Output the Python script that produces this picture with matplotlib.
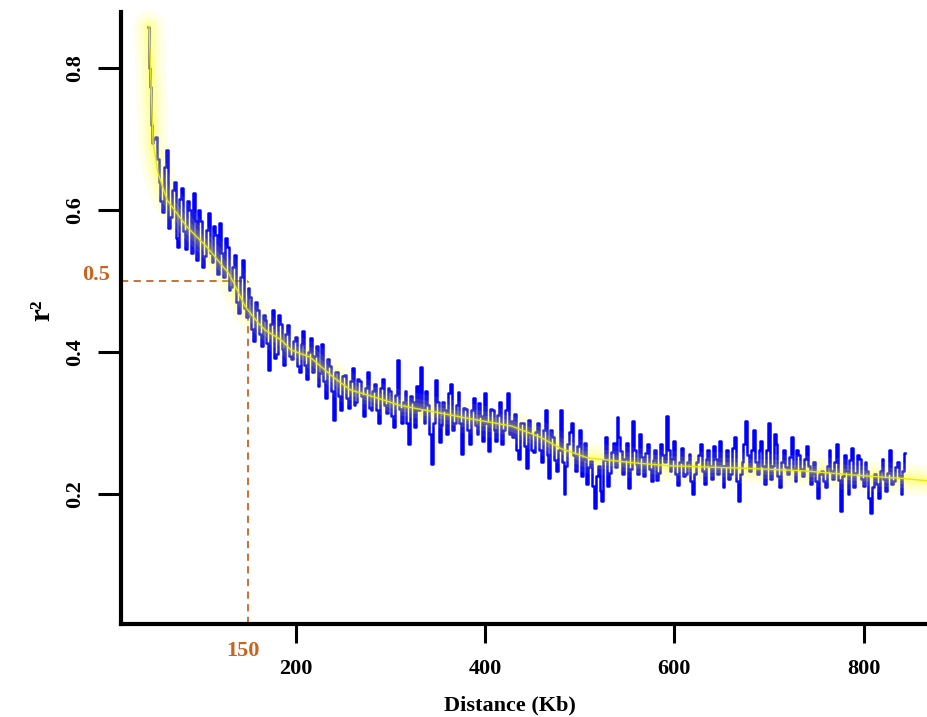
import numpy as np
import matplotlib
matplotlib.use("Agg")
import matplotlib.pyplot as plt

plt.rcParams['font.family'] = ['Liberation Serif', 'DejaVu Serif']
plt.rcParams['font.weight'] = 'bold'

# ---- data ----
dist_start = [44, 45, 46, 47, 48, 49, 50]
r2_start = [0.858, 0.800, 0.773, 0.740, 0.720, 0.694, 0.700]

dist_main = np.arange(52, 845, 4)
r2_main = [
    0.703, 0.640, 0.597, 0.685, 0.590, 0.640, 0.548, 0.631, 0.545, 0.600,
    0.624, 0.530, 0.585, 0.535, 0.596, 0.527, 0.565, 0.582, 0.505, 0.548,
    0.492, 0.537, 0.455, 0.530, 0.450, 0.478, 0.415, 0.459, 0.408, 0.445,
    0.375, 0.459, 0.398, 0.440, 0.382, 0.438, 0.390, 0.421, 0.372, 0.430,
    0.362, 0.420, 0.395, 0.352, 0.412, 0.335, 0.380, 0.305, 0.372, 0.318,
    0.368, 0.322, 0.378, 0.330, 0.360, 0.310, 0.372, 0.318, 0.355, 0.300,
    0.362, 0.315, 0.345, 0.295, 0.389, 0.300, 0.345, 0.271, 0.330, 0.352,
    0.379, 0.300, 0.325, 0.242, 0.361, 0.274, 0.330, 0.285, 0.355, 0.300,
    0.344, 0.257, 0.320, 0.270, 0.335, 0.285, 0.310, 0.342, 0.261, 0.318,
    0.275, 0.330, 0.290, 0.342, 0.303, 0.313, 0.250, 0.300, 0.237, 0.285,
    0.260, 0.300, 0.245, 0.319, 0.223, 0.280, 0.232, 0.319, 0.200, 0.270,
    0.300, 0.232, 0.290, 0.250, 0.215, 0.247, 0.181, 0.240, 0.190, 0.280,
    0.230, 0.272, 0.309, 0.261, 0.250, 0.209, 0.303, 0.242, 0.285, 0.225,
    0.270, 0.218, 0.262, 0.230, 0.255, 0.310, 0.233, 0.275, 0.213, 0.265,
    0.228, 0.257, 0.200, 0.245, 0.270, 0.215, 0.262, 0.222, 0.250, 0.275,
    0.210, 0.262, 0.228, 0.280, 0.190, 0.245, 0.303, 0.232, 0.290, 0.228,
    0.275, 0.215, 0.300, 0.240, 0.270, 0.210, 0.262, 0.228, 0.280, 0.218,
    0.255, 0.225, 0.268, 0.215, 0.245, 0.195, 0.233, 0.210, 0.262, 0.222,
    0.270, 0.176, 0.255, 0.200, 0.265, 0.230, 0.250, 0.212, 0.233, 0.174,
    0.228, 0.195, 0.250, 0.205, 0.262, 0.218, 0.245, 0.200, 0.258,
]

dist_mid = np.arange(54, 843, 4)
r2_mid = [
    0.672, 0.612, 0.660, 0.575, 0.628, 0.560, 0.615, 0.570, 0.612, 0.540,
    0.585, 0.600, 0.520, 0.572, 0.540, 0.578, 0.510, 0.540, 0.560, 0.488,
    0.520, 0.470, 0.505, 0.462, 0.490, 0.432, 0.470, 0.425, 0.452, 0.413,
    0.440, 0.392, 0.452, 0.405, 0.425, 0.395, 0.415, 0.380, 0.412, 0.382,
    0.400, 0.372, 0.408, 0.370, 0.360, 0.390, 0.345, 0.372, 0.338, 0.366,
    0.335, 0.360, 0.325, 0.362, 0.338, 0.350, 0.322, 0.345, 0.318, 0.350,
    0.325, 0.350, 0.310, 0.340, 0.320, 0.330, 0.300, 0.338, 0.295, 0.318,
    0.322, 0.345, 0.285, 0.300, 0.330, 0.298, 0.318, 0.342, 0.290, 0.325,
    0.300, 0.322, 0.290, 0.318, 0.298, 0.328, 0.275, 0.300, 0.320, 0.290,
    0.312, 0.270, 0.318, 0.285, 0.280, 0.262, 0.300, 0.268, 0.305, 0.262,
    0.288, 0.262, 0.290, 0.255, 0.290, 0.248, 0.262, 0.245, 0.240, 0.288,
    0.255, 0.268, 0.225, 0.272, 0.238, 0.212, 0.225, 0.205, 0.248, 0.212,
    0.260, 0.238, 0.280, 0.228, 0.272, 0.235, 0.262, 0.228, 0.252, 0.258,
    0.235, 0.248, 0.220, 0.270, 0.245, 0.262, 0.250, 0.228, 0.245, 0.225,
    0.245, 0.218, 0.228, 0.255, 0.232, 0.250, 0.240, 0.268, 0.228, 0.240,
    0.240, 0.222, 0.265, 0.218, 0.228, 0.270, 0.255, 0.262, 0.245, 0.262,
    0.240, 0.262, 0.222, 0.285, 0.225, 0.245, 0.238, 0.252, 0.235, 0.262,
    0.235, 0.250, 0.240, 0.230, 0.218, 0.228, 0.218, 0.240, 0.232, 0.245,
    0.220, 0.225, 0.232, 0.248, 0.210, 0.255, 0.222, 0.245, 0.195, 0.210,
    0.215, 0.232, 0.222, 0.230, 0.215, 0.238, 0.225, 0.232,
]

fit_kb = [45, 49.2, 54.5, 64, 85.2, 106, 129, 134.6, 146.6, 160.3, 167.7,
          184.6, 195, 215, 239.5, 257.5, 292, 310, 346, 381, 428, 459,
          480.5, 509, 559, 594.6, 665.5, 736, 790, 843, 867]
fit_r2 = [0.858, 0.694, 0.652, 0.614, 0.576, 0.548, 0.511, 0.497, 0.464,
          0.441, 0.431, 0.417, 0.403, 0.393, 0.365, 0.347, 0.333, 0.325,
          0.316, 0.307, 0.296, 0.280, 0.264, 0.251, 0.244, 0.240, 0.237,
          0.233, 0.227, 0.222, 0.219]

x_ticks = [200, 400, 600, 800]
y_ticks = [0.2, 0.4, 0.6, 0.8]
half_decay_kb = 150
half_decay_r2 = 0.5

dist = np.concatenate([dist_start, dist_main, dist_mid]).astype(float)
r2 = np.concatenate([r2_start, r2_main, r2_mid])
order = np.argsort(dist, kind='stable')
dist, r2 = dist[order], r2[order]

# ---- figure ----
fig = plt.figure(figsize=(9.27, 7.17), dpi=100)
ax = fig.add_axes([0.1302, 0.1293, 0.8698, 0.8544])
ax.set_xlim(15, 867)
ax.set_ylim(0.017, 0.879)

orange = '#c8641e'

# dashed guide lines
ax.plot([15, half_decay_kb], [half_decay_r2, half_decay_r2], ls=(0, (4, 3)),
        color=orange, lw=1.3, zorder=1)
ax.plot([half_decay_kb, half_decay_kb], [0.017, half_decay_r2], ls=(0, (4, 3)),
        color=orange, lw=1.3, zorder=1)

# raw noisy line
ax.plot(dist, r2, color='#0000ff', lw=1.8, drawstyle='steps-mid', zorder=2)

# glowing fit line
for lw, a in [(22, 0.09), (14, 0.12), (8, 0.16), (3.5, 0.18)]:
    ax.plot(fit_kb, fit_r2, color='#ffff00', lw=lw, alpha=a,
            solid_capstyle='round', solid_joinstyle='round', zorder=3)
ax.plot(fit_kb, fit_r2, color='#e6e61a', lw=1.0, zorder=4)

# spines / ticks
for s in ['top', 'right']:
    ax.spines[s].set_visible(False)
for s in ['left', 'bottom']:
    ax.spines[s].set_linewidth(3)
    ax.spines[s].set_color('black')

ax.set_xticks(x_ticks)
ax.set_xticklabels([str(v) for v in x_ticks])
ax.set_yticks(y_ticks)
ax.set_yticklabels([f"{v:.1f}" for v in y_ticks], rotation=90, va='center')
ax.tick_params(axis='x', direction='out', length=14, width=2.2, pad=11,
               labelsize=16)
ax.tick_params(axis='y', direction='out', length=16.5, width=2.2, pad=9,
               labelsize=16)
for lab in ax.get_xticklabels() + ax.get_yticklabels():
    lab.set_fontweight('bold')

# orange labels
ax.text(half_decay_kb - 6, -0.02, str(half_decay_kb), color=orange, fontsize=16,
        fontweight='bold', ha='center', va='center',
        transform=ax.transData, clip_on=False)
ax.text(-0.03, half_decay_r2 + 0.008, f"{half_decay_r2}", color=orange,
        fontsize=16, fontweight='bold', ha='center', va='center',
        transform=ax.get_yaxis_transform(), clip_on=False)

fig.text(510 / 927, 1 - 705 / 717, 'Distance (Kb)', fontsize=16,
         fontweight='bold', ha='center', va='center')
fig.text(42 / 927, 1 - 310 / 717, 'r²', fontsize=21, fontweight='bold',
         ha='center', va='center', rotation=90)

fig.savefig('out.png', dpi=100, facecolor='white')
